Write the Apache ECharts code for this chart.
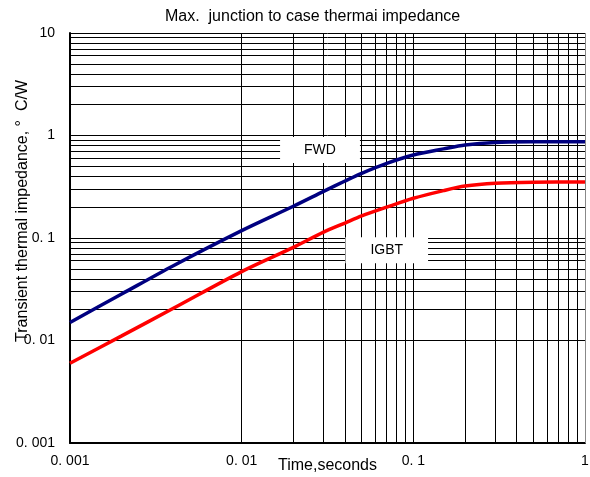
<!DOCTYPE html>
<html>
<head>
<meta charset="utf-8">
<script src="https://cdn.jsdelivr.net/npm/echarts@6/dist/echarts.min.js"></script>
<style>
  html, body { margin: 0; padding: 0; background: #fff; }
  #chart { width: 590px; height: 477px; }
</style>
</head>
<body>
<div id="chart"></div>
<script>
// time, seconds
const times = [0.001, 0.002, 0.004, 0.01, 0.02, 0.03, 0.04, 0.05, 0.07, 0.1, 0.15, 0.2, 0.3, 0.5, 1];
// transient thermal impedance, C/W
const fwdValues = [0.015, 0.0284, 0.0537, 0.118, 0.204, 0.285, 0.36, 0.428, 0.535, 0.645, 0.74, 0.808, 0.855, 0.868, 0.87];
const igbtValues = [0.006, 0.0111, 0.0206, 0.047, 0.081, 0.114, 0.14, 0.164, 0.20, 0.244, 0.29, 0.321, 0.342, 0.35, 0.352];

const xTickLabels = { 0.001: "0. 001", 0.01: "0. 01", 0.1: "0. 1", 1: "1" };
const yTickLabels = { 0.001: "0. 001", 0.01: "0. 01", 0.1: "0. 1", 1: "1", 10: "10" };

// label positions in data coords
const fwdLabelAt = [0.0286, 0.72];
const igbtLabelAt = [0.070, 0.076];

// minor grid lines 2..9 in every decade
function minorLines(from, to) {
  const out = [];
  for (let d = from; d < to; d *= 10) {
    for (let k = 2; k <= 9; k++) out.push(+(k * d).toPrecision(3));
  }
  return out;
}
const xMinor = minorLines(0.001, 1);
const yMinor = minorLines(0.001, 10);

const chart = echarts.init(document.getElementById("chart"));
const font = "Liberation Sans, Arial, sans-serif";
const gridLine = { color: "#000", width: 1, type: "solid" };

const option = {
  animation: false,
  title: {
    text: "Max.  junction to case thermai impedance",
    left: 160,
    top: 4,
    textStyle: { fontFamily: font, fontSize: 16, fontWeight: "normal", color: "#000" },
  },
  grid: { left: 70, right: 5, top: 33, bottom: 34, outerBoundsMode: "none", containLabel: false },
  xAxis: {
    type: "log",
    logBase: 10,
    min: 0.001,
    max: 1,
    name: "Time,seconds",
    nameLocation: "middle",
    nameGap: 15,
    nameMoveOverlap: false,
    nameTextStyle: { fontFamily: font, fontSize: 16, color: "#000" },
    axisLine: { show: true, onZero: false, lineStyle: { color: "#000", width: 2 } },
    axisTick: { show: false },
    axisLabel: {
      fontFamily: font,
      fontSize: 14,
      color: "#000",
      margin: 11,
      formatter: (v) => xTickLabels[+v.toPrecision(3)] || "",
    },
    splitLine: { show: true, lineStyle: gridLine },
  },
  yAxis: {
    type: "log",
    logBase: 10,
    min: 0.001,
    max: 10,
    axisLine: { show: true, onZero: false, lineStyle: { color: "#000", width: 2 } },
    axisTick: { show: false },
    axisLabel: {
      fontFamily: font,
      fontSize: 14,
      color: "#000",
      margin: 15,
      formatter: (v) => yTickLabels[+v.toPrecision(3)] || "",
    },
    splitLine: { show: true, lineStyle: gridLine },
  },
  graphic: [
    {
      type: "text",
      left: 15,
      top: 80,
      rotation: Math.PI / 2,
      z: 100,
      style: {
        text: "Transient thermal impedance, \u00b0  C/W",
        font: "16px " + font,
        fill: "#000",
      },
    },
    {
      type: "rect",
      right: 4,
      top: 33,
      z: 50,
      shape: { width: 1, height: 410 },
      style: { fill: "#888" },
    },
  ],
  series: [
    {
      name: "grid",
      type: "line",
      data: [],
      silent: true,
      markLine: {
        silent: true,
        symbol: "none",
        label: { show: false },
        lineStyle: gridLine,
        animation: false,
        data: xMinor.map((v) => ({ xAxis: v })).concat(yMinor.map((v) => ({ yAxis: v }))),
      },
    },
    {
      name: "FWD",
      type: "line",
      data: times.map((t, i) => [t, fwdValues[i]]),
      smooth: 0.3,
      showSymbol: false,
      z: 5,
      lineStyle: { color: "#000080", width: 3.5 },
      markPoint: {
        symbol: "rect",
        symbolSize: 0,
        z: 10,
        label: {
          show: true,
          formatter: "FWD",
          fontFamily: font,
          fontSize: 14,
          color: "#000",
          backgroundColor: "#fff",
          padding: [6, 24],
        },
        data: [{ coord: fwdLabelAt }],
      },
    },
    {
      name: "IGBT",
      type: "line",
      data: times.map((t, i) => [t, igbtValues[i]]),
      smooth: 0.3,
      showSymbol: false,
      z: 5,
      lineStyle: { color: "#ff0000", width: 3.5 },
      markPoint: {
        symbol: "rect",
        symbolSize: 0,
        z: 10,
        label: {
          show: true,
          formatter: "IGBT",
          fontFamily: font,
          fontSize: 14,
          color: "#000",
          backgroundColor: "#fff",
          padding: [6, 25],
        },
        data: [{ coord: igbtLabelAt }],
      },
    },
  ],
};

chart.setOption(option);
</script>
</body>
</html>
